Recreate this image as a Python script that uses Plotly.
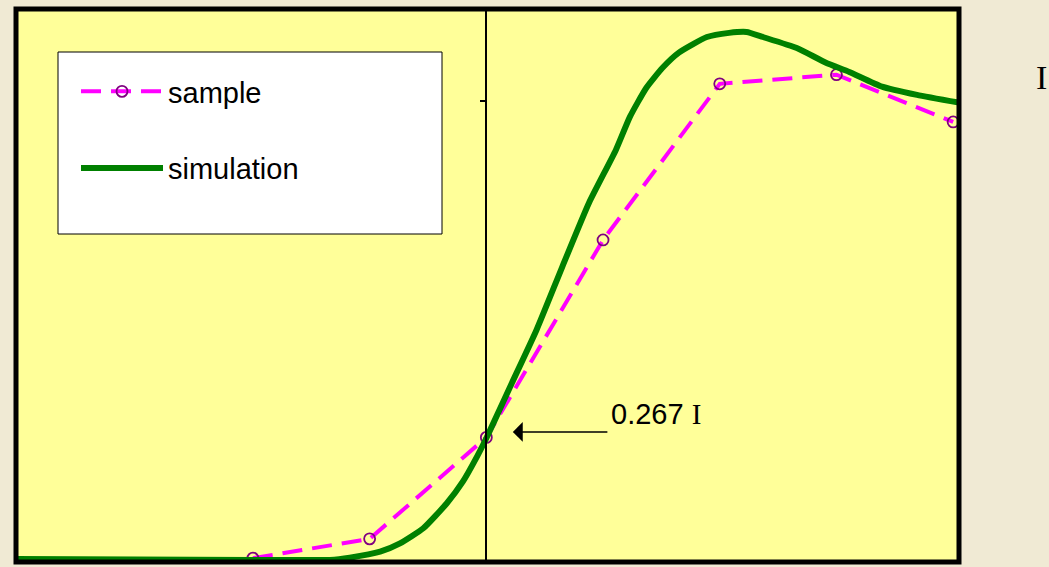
import plotly.graph_objects as go

# ---- data ----
sample_x = [-2, -1, 0, 1, 2, 3, 4]
sample_y = [0.004, 0.046, 0.267, 0.697, 1.037, 1.057, 0.954]

sim_x = [-4.03, -3.0, -2.0, -1.5, -1.34, -1.17, -0.91, -0.74, -0.54, -0.34, -0.2, -0.08,
         0.0, 0.14, 0.22, 0.43, 0.65, 0.88, 1.11, 1.23, 1.37, 1.51, 1.65, 1.89, 2.08,
         2.23, 2.37, 2.66, 2.91, 3.11, 3.39, 3.69, 4.05]
sim_y = [0.002, 0.001, 0.0, 0.0, 0.0, 0.005, 0.018, 0.036, 0.069, 0.123, 0.171, 0.225,
         0.265, 0.342, 0.386, 0.501, 0.638, 0.778, 0.893, 0.965, 1.028, 1.072, 1.105, 1.139, 1.148,
         1.150, 1.139, 1.115, 1.083, 1.063, 1.031, 1.013, 0.996]

marked_value = 0.267
x_range = [-4.03, 4.05]
y_range = [-0.0044, 1.2]
y_ticks = [1]

SANS = "Arial, Liberation Sans, sans-serif"
SERIF = "Times New Roman, Liberation Serif, serif"

fig = go.Figure()
fig.add_trace(go.Scatter(
    x=sample_x, y=sample_y, name="sample", mode="lines+markers",
    line=dict(color="#ff00ff", width=4, dash="20px,10px"),
    marker=dict(symbol="circle-open", size=11, color="#800080", line=dict(width=1.8, color="#800080")),
    legendgroup="a",
))
fig.add_trace(go.Scatter(
    x=sim_x, y=sim_y, name="simulation", mode="lines",
    line=dict(color="#008000", width=6, shape="spline", smoothing=0.5),
    legendgroup="b",
))

x0_frac = (0 - x_range[0]) / (x_range[1] - x_range[0])

fig.update_layout(
    width=1049, height=567,
    margin=dict(l=16, r=90, t=9, b=5),
    paper_bgcolor="#f0ead4",
    plot_bgcolor="#ffff99",
    font=dict(family=SANS, size=29, color="black"),
    showlegend=True,
    legend=dict(
        x=(76 - 16) / 943, y=(562 - 66) / 553, xanchor="left", yanchor="top",
        bgcolor="rgba(0,0,0,0)", borderwidth=0,
        font=dict(family=SANS, size=29, color="black"),
        itemwidth=82, traceorder="grouped", tracegroupgap=36,
    ),
    xaxis=dict(range=x_range, showgrid=False, zeroline=False, showticklabels=False,
               ticks="", showline=False),
    yaxis=dict(range=y_range, showgrid=False, zeroline=False, showticklabels=False,
               anchor="free", position=x0_frac, showline=True, linecolor="black", linewidth=1.5,
               ticks="outside", ticklen=6, tickwidth=1.5, tickcolor="black", tickvals=y_ticks),
    shapes=[
        # legend box
        dict(type="rect", xref="paper", yref="paper",
             x0=(58 - 16) / 943, x1=(442 - 16) / 943,
             y0=(562 - 234) / 553, y1=(562 - 52) / 553,
             fillcolor="white", line=dict(color="black", width=1), layer="below"),
        # frame
        dict(type="rect", xref="paper", yref="paper", x0=0, x1=1, y0=0, y1=1,
             line=dict(color="black", width=5), layer="above"),
    ],
    annotations=[
        dict(x=0.227, y=0.279, xref="x", yref="y", text="", showarrow=True,
             axref="x", ayref="y", ax=1.05, ay=0.279,
             arrowhead=1, arrowsize=2.2, arrowwidth=1.5, arrowcolor="black"),
        dict(x=1.05, y=0.318, xref="x", yref="y", xanchor="left", yanchor="middle",
             showarrow=False,
             text=f"{marked_value} <span style='font-family:{SERIF}'>I</span>",
             font=dict(family=SANS, size=29, color="black")),
        dict(x=(1034 - 16) / 943, y=(562 - 77) / 553, xref="paper", yref="paper",
             xanchor="left", yanchor="middle", showarrow=False, text="I",
             font=dict(family=SERIF, size=34, color="black")),
    ],
)

fig.write_html("out.html")
